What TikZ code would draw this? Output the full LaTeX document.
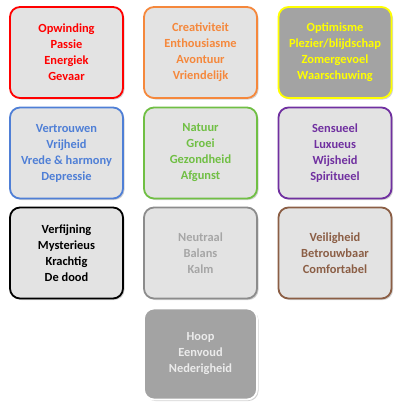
\documentclass[tikz,border=0pt]{standalone}
\usepackage{fontspec}
\setmainfont{Carlito}
\usetikzlibrary{shadows}
\definecolor{cRed}{HTML}{FF0000}
\definecolor{cOrange}{HTML}{F5883C}
\definecolor{cYellow}{HTML}{FFFF00}
\definecolor{cBlue}{HTML}{4F7FD6}
\definecolor{cGreen}{HTML}{70BF44}
\definecolor{cPurple}{HTML}{7030A0}
\definecolor{cGrey}{HTML}{8C8C8C}
\definecolor{cGreyText}{HTML}{A6A6A6}
\definecolor{cBrown}{HTML}{8B5E45}
\definecolor{boxFill}{HTML}{E3E3E3}
\definecolor{darkFill}{HTML}{A3A3A3}
\begin{document}
\begin{tikzpicture}[x=1pt,y=-1pt,
    colorbox/.style={rectangle,rounded corners=10pt,line width=1.8pt,
      minimum width=113pt,minimum height=91pt,inner sep=0pt,
      fill=boxFill,align=center,font=\bfseries\fontsize{12.4}{16}\selectfont,
      drop shadow={shadow xshift=1.5pt,shadow yshift=-1.5pt,opacity=0.35}}
]
\useasboundingbox (0,0) rectangle (394,407);
\node[colorbox,draw=cRed,text=cRed]       (rood)   at (66.5,52.5) {Opwinding\\Passie\\Energiek\\Gevaar};
\node[colorbox,draw=cOrange,text=cOrange] (oranje) at (200.5,52.5) {Creativiteit\\Enthousiasme\\Avontuur\\Vriendelijk};
\node[colorbox,draw=cYellow,text=cYellow,fill=darkFill] (geel) at (335,52.5) {Optimisme\\Plezier/blijdschap\\Zomergevoel\\Waarschuwing};
\node[colorbox,draw=cBlue,text=cBlue]     (blauw)  at (66.5,153) {Vertrouwen\\Vrijheid\\Vrede \& harmony\\Depressie};
\node[colorbox,draw=cGreen,text=cGreen]   (groen)  at (200.5,153) {Natuur\\Groei\\Gezondheid\\Afgunst};
\node[colorbox,draw=cPurple,text=cPurple] (paars)  at (335,153) {Sensueel\\Luxueus\\Wijsheid\\Spiritueel};
\node[colorbox,draw=black,text=black]     (zwart)  at (66.5,253) {Verfijning\\Mysterieus\\Krachtig\\De dood};
\node[colorbox,draw=cGrey,text=cGreyText] (grijs)  at (200.5,253) {Neutraal\\Balans\\Kalm};
\node[colorbox,draw=cBrown,text=cBrown]   (bruin)  at (335,253) {Veiligheid\\Betrouwbaar\\Comfortabel};
\node[colorbox,draw=white,text=white!92!black,fill=darkFill] (wit) at (200.5,354) {Hoop\\Eenvoud\\Nederigheid};
\end{tikzpicture}
\end{document}
